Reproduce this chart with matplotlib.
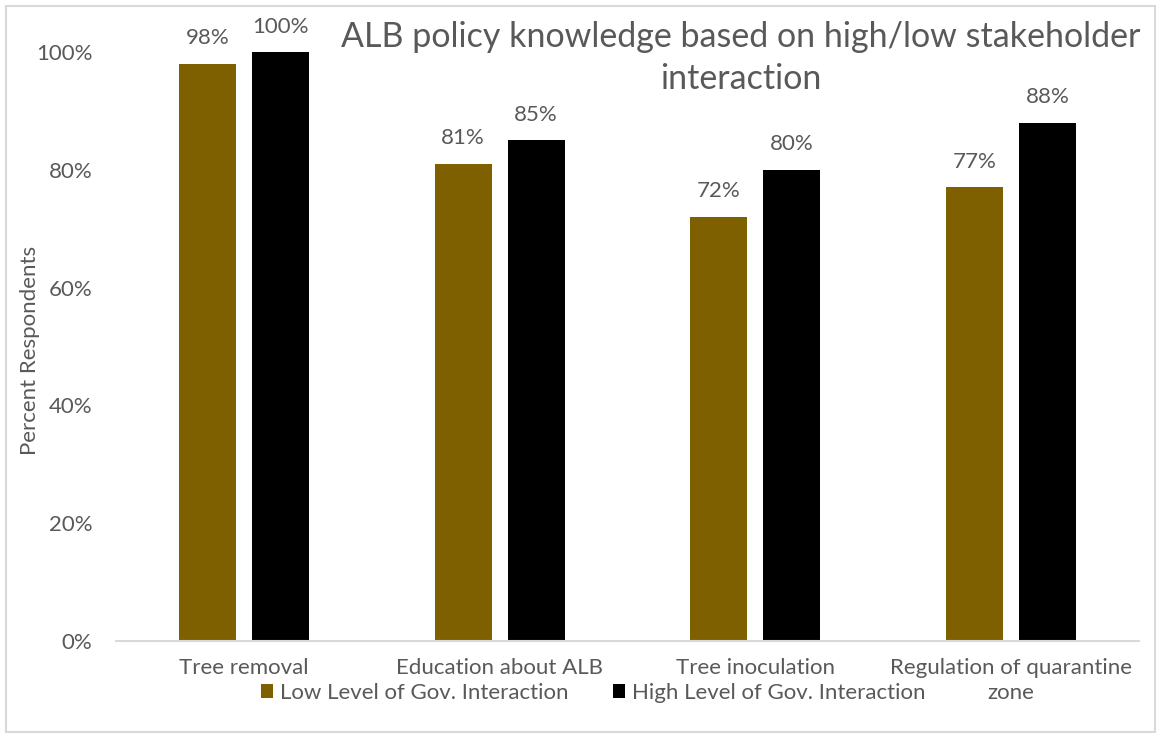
import matplotlib
matplotlib.use("Agg")
import matplotlib.pyplot as plt
from matplotlib.patches import Rectangle
import numpy as np

# ---- data -------------------------------------------------------------------
categories = ["Tree removal", "Education about ALB", "Tree inoculation",
              "Regulation of quarantine\nzone"]
low_interaction = [98, 81, 72, 77]
high_interaction = [100, 85, 80, 88]
series_names = ["Low Level of Gov. Interaction", "High Level of Gov. Interaction"]
y_ticks = [0, 20, 40, 60, 80, 100]
title_lines = ["ALB policy knowledge based on high/low stakeholder", "interaction"]

# ---- style ------------------------------------------------------------------
TEXT = "#595959"
BROWN = "#7F6000"
FS = 16
plt.rcParams["font.family"] = ["Lato", "DejaVu Sans"]

W, H = 1161, 738
fig = plt.figure(figsize=(W / 100, H / 100), dpi=100)

# plot area in pixel coords -> figure fractions
left, right, bottom, top = 116, 1139, 641, 52
ax = fig.add_axes([left / W, 1 - bottom / H, (right - left) / W, (bottom - top) / H])

x = np.arange(len(categories))
width = 0.223
off = 0.143
bars_low = ax.bar(x - off, low_interaction, width, color=BROWN, label=series_names[0])
bars_high = ax.bar(x + off, high_interaction, width, color="black", label=series_names[1])

for bars, vals in ((bars_low, low_interaction), (bars_high, high_interaction)):
    for b, v in zip(bars, vals):
        ax.annotate(f"{v}%", (b.get_x() + b.get_width() / 2, v),
                    xytext=(0, 14), textcoords="offset points",
                    ha="center", va="baseline", fontsize=FS, color=TEXT,
                    annotation_clip=False)

ax.set_xlim(-0.5, 3.5)
ax.set_ylim(0, 100)
ax.set_yticks(y_ticks)
ax.set_yticklabels([f"{t}%" for t in y_ticks])
ax.set_xticks(x)
ax.set_xticklabels(categories)
ax.tick_params(axis="both", length=0, labelsize=FS, colors=TEXT)
ax.tick_params(axis="y", pad=17)
ax.tick_params(axis="x", pad=12)
for lbl in ax.get_xticklabels():
    lbl.set_linespacing(1.35)

for side in ("top", "right", "left"):
    ax.spines[side].set_visible(False)
ax.spines["bottom"].set_color("#D9D9D9")
ax.spines["bottom"].set_linewidth(1.5)

# axis title sits close to the chart's left edge
fig.text(30 / W, 1 - 350 / H, "Percent Respondents", rotation=90,
         ha="center", va="center", fontsize=FS, color=TEXT)

# chart title, one text per line
for line, ypix in zip(title_lines, (37, 79)):
    fig.text(741 / W, 1 - ypix / H, line, ha="center", va="center",
             fontsize=24.5, color=TEXT)

fig.legend(loc="center", bbox_to_anchor=(593 / W, 1 - 693 / H), ncol=2,
           frameon=False, fontsize=FS, labelcolor=TEXT, handlelength=0.55,
           handleheight=0.55, handletextpad=0.3, columnspacing=2.0)

# light chart border
fig.patches.append(Rectangle((6 / W, 6 / H), 1 - 12 / W, 1 - 12 / H,
                             transform=fig.transFigure, fill=False,
                             edgecolor="#D9D9D9", linewidth=1.5))

fig.savefig("out.png", dpi=100)
